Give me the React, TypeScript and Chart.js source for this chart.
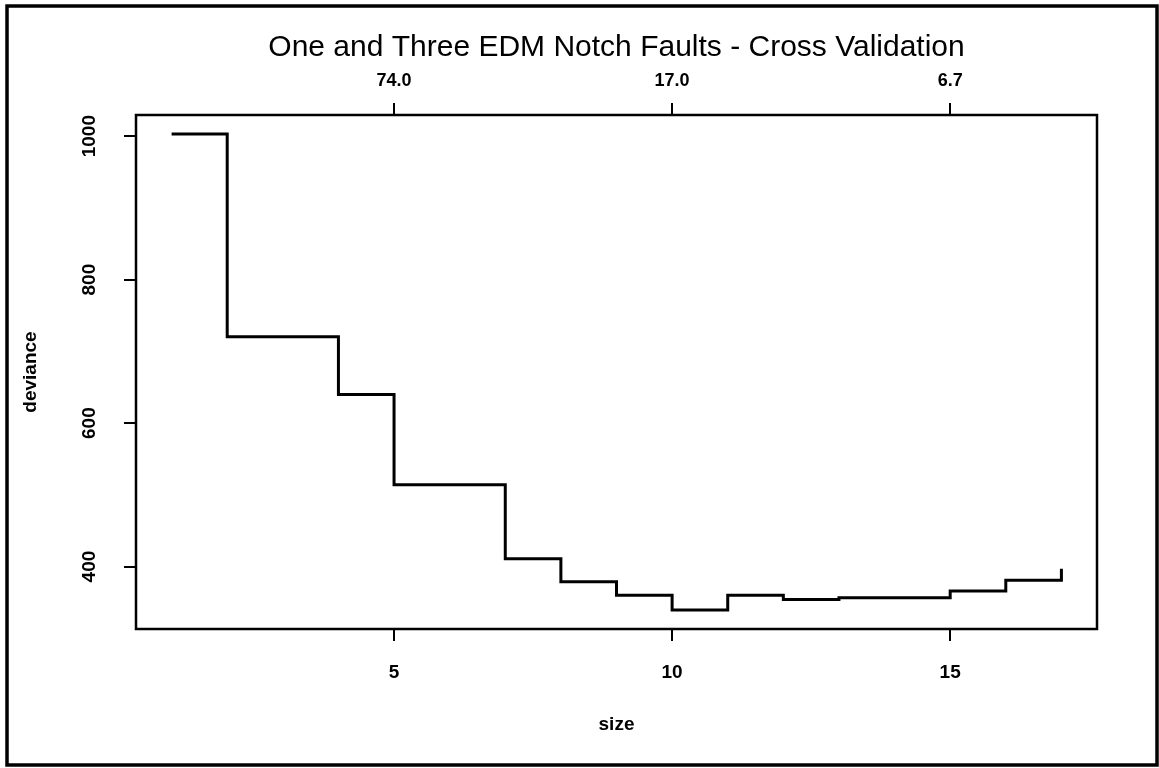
import React, { useEffect, useRef } from "react";
import { Chart, registerables } from "chart.js";

Chart.register(...registerables);

// ---- data ----
const sizes = [1, 2, 3, 4, 5, 6, 7, 8, 9, 10, 11, 12, 13, 14, 15, 16, 17];
const deviance = [1003, 720.5, 720.5, 640, 514, 514, 411, 379, 360, 339.5, 360, 354, 356.5, 356.5, 366, 381, 397];
const xTickValues = [5, 10, 15];
const topTickLabels = ["74.0", "17.0", "6.7"];
const yTickValues = [400, 600, 800, 1000];
const chartTitle = "One and Three EDM Notch Faults - Cross Validation";
const xAxisTitle = "size";
const yAxisTitle = "deviance";

const FONT = "'Liberation Sans', Arial, Helvetica, sans-serif";

const framePlugin = {
  id: "frame",
  afterDraw(chart: any) {
    const { ctx, chartArea } = chart;
    const { left, top, right, bottom } = chartArea;
    ctx.save();
    ctx.strokeStyle = "#000";
    ctx.lineWidth = 2.5;
    ctx.strokeRect(left, top, right - left, bottom - top);
    ctx.lineWidth = 3.5;
    ctx.strokeRect(7, 6, 1150, 759);
    ctx.restore();
  },
};

export default function App() {
  const ref = useRef<HTMLCanvasElement | null>(null);

  useEffect(() => {
    if (!ref.current) return;
    const xMinD = Math.min(...sizes);
    const xMaxD = Math.max(...sizes);
    const yMinD = Math.min(...deviance);
    const yMaxD = Math.max(...deviance);
    const xPad = 0.04 * (xMaxD - xMinD);
    const yPad = 0.04 * (yMaxD - yMinD);

    const tickGrid = {
      display: true,
      drawOnChartArea: false,
      drawTicks: true,
      tickLength: 12,
      color: "#000",
      lineWidth: 2,
    };

    const chart = new Chart(ref.current, {
      type: "line",
      data: {
        datasets: [
          {
            data: sizes.map((s, i) => ({ x: s, y: deviance[i] })),
            stepped: "before",
            borderColor: "#000",
            borderWidth: 3,
            pointRadius: 0,
            fill: false,
            xAxisID: "x",
            yAxisID: "y",
          },
        ],
      },
      options: {
        animation: false,
        responsive: false,
        devicePixelRatio: 1,
        layout: { padding: 0 },
        plugins: {
          legend: { display: false },
          tooltip: { enabled: false },
          title: {
            display: true,
            fullSize: false,
            text: chartTitle,
            color: "#000",
            font: { family: FONT, size: 30, weight: "normal", lineHeight: 1.2 },
            padding: { top: 29.5, bottom: 0 },
          },
        },
        scales: {
          x: {
            type: "linear",
            position: "bottom",
            min: xMinD - xPad,
            max: xMaxD + xPad,
            afterBuildTicks: (s: any) => {
              s.ticks = xTickValues.map((v) => ({ value: v }));
            },
            afterFit: (s: any) => {
              s.height = 139;
            },
            grid: tickGrid,
            border: { display: false },
            ticks: {
              color: "#000",
              font: { family: FONT, size: 19, weight: "bold", lineHeight: 1.2 },
              padding: 20,
              maxRotation: 0,
              minRotation: 0,
              callback: (v: any) => String(v),
            },
            title: {
              display: true,
              text: xAxisTitle,
              color: "#000",
              font: { family: FONT, size: 19, weight: "bold", lineHeight: 1.2 },
              padding: { top: 0, bottom: 32 },
            },
          },
          x2: {
            type: "linear",
            position: "top",
            min: xMinD - xPad,
            max: xMaxD + xPad,
            afterBuildTicks: (s: any) => {
              s.ticks = xTickValues.map((v) => ({ value: v }));
            },
            afterFit: (s: any) => {
              s.height = 49.5;
            },
            grid: tickGrid,
            border: { display: false },
            ticks: {
              color: "#000",
              font: { family: FONT, size: 18, weight: "bold", lineHeight: 1.2 },
              padding: 11,
              maxRotation: 0,
              minRotation: 0,
              callback: (v: any) => {
                const idx = xTickValues.indexOf(Number(v));
                return idx >= 0 ? topTickLabels[idx] : "";
              },
            },
          },
          y: {
            type: "linear",
            position: "left",
            min: yMinD - yPad,
            max: yMaxD + yPad,
            afterBuildTicks: (s: any) => {
              s.ticks = yTickValues.map((v) => ({ value: v }));
            },
            afterFit: (s: any) => {
              s.width = 136;
            },
            grid: tickGrid,
            border: { display: false },
            ticks: {
              color: "#000",
              font: { family: FONT, size: 19, weight: "bold", lineHeight: 1.2 },
              padding: 13,
              minRotation: 90,
              maxRotation: 90,
              crossAlign: "center",
              callback: (v: any) => String(v),
            },
            title: {
              display: true,
              text: yAxisTitle,
              color: "#000",
              font: { family: FONT, size: 19, weight: "bold", lineHeight: 1.2 },
              padding: { top: 19, bottom: 0 },
            },
          },
          yRight: {
            type: "linear",
            position: "right",
            min: yMinD - yPad,
            max: yMaxD + yPad,
            afterFit: (s: any) => {
              s.width = 62;
            },
            grid: { display: false, drawTicks: false },
            border: { display: false },
            ticks: { display: false },
          },
        },
      } as any,
      plugins: [framePlugin],
    });
    return () => chart.destroy();
  }, []);

  return (
    <div style={{ position: "fixed", left: 0, top: 0, width: 1159, height: 768, background: "#fff" }}>
      <canvas ref={ref} width={1159} height={768} style={{ width: 1159, height: 768, display: "block" }} />
    </div>
  );
}
